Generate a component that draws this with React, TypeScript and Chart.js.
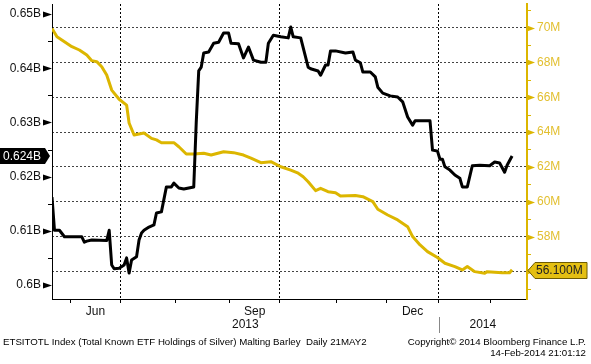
import React, { useEffect, useRef } from 'react';
import { Chart, registerables } from 'chart.js';

Chart.register(...registerables);

// Trading-day index (0 = 21 May 2013) for each vertex of the ETF holdings value line (billions USD)
const valueDays = [0, 1, 3, 5, 12, 13, 14, 16, 22, 23, 24, 25, 27, 29, 30, 31, 32, 34, 35, 36, 37, 39, 41, 42, 44, 46, 48, 49, 51, 53, 57, 58, 59, 60, 61, 63, 65, 67, 69, 71, 72, 75, 77, 79, 81, 84, 86, 87, 89, 92, 95, 96, 97, 100, 103, 104, 107, 108, 110, 111, 112, 114, 118, 121, 122, 124, 125, 128, 130, 131, 133, 136, 139, 141, 143, 145, 146, 152, 153, 155, 156, 157, 158, 160, 162, 164, 165, 167, 169, 172, 176, 178, 180, 182, 183, 185];
const valueB = [0.6162, 0.6101, 0.6101, 0.6089, 0.6089, 0.6079, 0.6081, 0.6083, 0.6082, 0.6101, 0.6037, 0.603, 0.6031, 0.6037, 0.605, 0.6022, 0.6046, 0.6052, 0.6083, 0.6096, 0.6101, 0.6107, 0.6111, 0.6133, 0.6135, 0.6181, 0.6181, 0.6188, 0.6179, 0.6177, 0.6181, 0.63, 0.6395, 0.6402, 0.6428, 0.643, 0.6446, 0.6448, 0.6465, 0.6465, 0.6446, 0.6445, 0.6419, 0.6439, 0.6415, 0.6411, 0.6411, 0.6446, 0.6461, 0.6458, 0.6456, 0.6476, 0.6458, 0.6456, 0.6402, 0.6399, 0.6395, 0.6387, 0.6406, 0.6406, 0.6432, 0.6432, 0.6428, 0.643, 0.6415, 0.641, 0.6393, 0.6393, 0.6384, 0.6365, 0.6354, 0.6349, 0.6347, 0.6338, 0.631, 0.6295, 0.6303, 0.6303, 0.6249, 0.6247, 0.6232, 0.6232, 0.6218, 0.6212, 0.6203, 0.6197, 0.6181, 0.6181, 0.622, 0.6221, 0.622, 0.6227, 0.6225, 0.6208, 0.6221, 0.6238];

// Total known ETF holdings of silver (million ounces)
const holdingsDays = [0, 2, 5, 8, 11, 14, 16, 18, 20, 22, 24, 27, 30, 31, 33, 37, 40, 42, 44, 49, 51, 54, 57, 61, 64, 69, 73, 77, 80, 84, 88, 92, 96, 99, 101, 103, 106, 108, 111, 114, 116, 122, 125, 129, 131, 135, 139, 143, 145, 148, 151, 155, 158, 162, 165, 167, 170, 174, 175, 181, 184, 185];
const holdingsM = [69.95, 69.47, 69.19, 68.9, 68.71, 68.42, 68.1, 68.04, 67.75, 67.27, 66.41, 65.88, 65.55, 64.52, 63.83, 63.95, 63.64, 63.55, 63.39, 63.39, 63.16, 62.74, 62.74, 62.78, 62.68, 62.87, 62.82, 62.68, 62.5, 62.24, 62.3, 62.01, 61.82, 61.64, 61.44, 61.15, 60.64, 60.77, 60.58, 60.52, 60.33, 60.36, 60.29, 60.01, 59.57, 59.24, 58.96, 58.57, 58.0, 57.52, 57.14, 56.8, 56.47, 56.28, 56.09, 56.28, 55.99, 55.9, 55.99, 55.93, 55.93, 56.1];

// Axis definitions
const monthBoundaries = [7.5, 27.5, 49.5, 71.5, 91.5, 114.5, 134.5, 155.5, 176.5];
const quarterBoundaries = [27.5, 91.5, 155.5];
const monthLabels = ['Jun', 'Sep', 'Dec'];
const monthLabelDays = [17.5, 81.5, 145];
const yearLabels = ['2013', '2014'];
const yearStarts = [0, 155.5];
const yearEnds = [155.5, 191];
const leftMajorTicks = [0.6, 0.61, 0.62, 0.63, 0.64, 0.65];
const leftMajorLabels = ['0.6B', '0.61B', '0.62B', '0.63B', '0.64B', '0.65B'];
const leftMinorTicks = [0.605, 0.615, 0.625, 0.635, 0.645];
const rightMajorTicks = [56, 58, 60, 62, 64, 66, 68, 70];
const rightMajorLabels = ['56M', '58M', '60M', '62M', '64M', '66M', '68M', '70M'];
const rightMinorTicks = [55, 57, 59, 61, 63, 65, 67, 69, 71];

const footerLeft = 'ETSITOTL Index (Total Known ETF Holdings of Silver) Malting Barley  Daily 21MAY2';
const footerRight1 = 'Copyright\u00A9 2014 Bloomberg Finance L.P.';
const footerRight2 = '14-Feb-2014 21:01:12';

const FONT = "'Liberation Sans', Arial, sans-serif";
const YELLOW = '#dcb600';
const YELLOW_TEXT = '#e2bf2e';

const near = (a: number, b: number) => Math.abs(a - b) < 1e-6;

const decorPlugin = {
  id: 'decor',
  afterDraw(chart: any) {
    const { ctx, chartArea, scales } = chart;
    const x = scales.x, y = scales.y, y1 = scales.y1;
    const L = chartArea.left, R = chartArea.right;
    ctx.save();
    // left axis arrows and minor ticks
    ctx.fillStyle = '#000';
    leftMajorTicks.forEach((v) => {
      const py = Math.round(y.getPixelForValue(v)) + 0.5;
      ctx.beginPath();
      ctx.moveTo(L - 9, py - 3);
      ctx.lineTo(L, py);
      ctx.lineTo(L - 9, py + 3);
      ctx.closePath();
      ctx.fill();
    });
    ctx.strokeStyle = '#000';
    ctx.lineWidth = 1;
    leftMinorTicks.forEach((v) => {
      const py = Math.round(y.getPixelForValue(v)) + 0.5;
      ctx.beginPath();
      ctx.moveTo(L - 4, py);
      ctx.lineTo(L, py);
      ctx.stroke();
    });
    // right axis arrows and minor ticks
    ctx.fillStyle = YELLOW;
    rightMajorTicks.forEach((v) => {
      const py = Math.round(y1.getPixelForValue(v)) + 0.5;
      ctx.beginPath();
      ctx.moveTo(R, py - 3);
      ctx.lineTo(R + 8, py);
      ctx.lineTo(R, py + 3);
      ctx.closePath();
      ctx.fill();
    });
    ctx.strokeStyle = YELLOW;
    rightMinorTicks.forEach((v) => {
      const py = Math.round(y1.getPixelForValue(v)) + 0.5;
      ctx.beginPath();
      ctx.moveTo(R, py);
      ctx.lineTo(R + 4, py);
      ctx.stroke();
    });

    // last value tag, left axis
    const lastB = valueB[valueB.length - 1];
    const ty = Math.round(y.getPixelForValue(lastB));
    ctx.fillStyle = '#000';
    ctx.beginPath();
    ctx.moveTo(0, ty - 8);
    ctx.lineTo(L - 7, ty - 8);
    ctx.lineTo(L - 2, ty);
    ctx.lineTo(L - 7, ty + 8);
    ctx.lineTo(0, ty + 8);
    ctx.closePath();
    ctx.fill();
    ctx.fillStyle = '#fff';
    ctx.font = `12px ${FONT}`;
    ctx.textAlign = 'left';
    ctx.textBaseline = 'middle';
    ctx.fillText(lastB.toFixed(3) + 'B', 3, ty + 0.5);

    // last value tag, right axis
    const lastM = holdingsM[holdingsM.length - 1];
    const my = Math.round(y1.getPixelForValue(lastM)) + 0.5;
    ctx.fillStyle = '#e4bf12';
    ctx.strokeStyle = '#6e5c00';
    ctx.beginPath();
    ctx.moveTo(R + 1, my);
    ctx.lineTo(R + 8, my - 8);
    ctx.lineTo(587, my - 8);
    ctx.lineTo(587, my + 8);
    ctx.lineTo(R + 8, my + 8);
    ctx.closePath();
    ctx.fill();
    ctx.stroke();
    ctx.fillStyle = '#222';
    ctx.fillText(lastM.toFixed(3) + 'M', R + 9, my + 0.5);

    // year labels and separator
    ctx.fillStyle = '#111';
    ctx.textAlign = 'center';
    yearLabels.forEach((lab, i) => {
      const cx = (x.getPixelForValue(yearStarts[i]) + x.getPixelForValue(yearEnds[i])) / 2;
      ctx.fillText(lab, cx, 325);
    });
    const sx = Math.round(x.getPixelForValue(yearStarts[1])) + 0.5;
    ctx.strokeStyle = '#888';
    ctx.beginPath();
    ctx.moveTo(sx, 317);
    ctx.lineTo(sx, 333);
    ctx.stroke();

    // footer
    ctx.fillStyle = '#000';
    ctx.font = `9.7px ${FONT}`;
    ctx.textAlign = 'left';
    ctx.fillText(footerLeft, 3, 342);
    ctx.textAlign = 'right';
    ctx.fillText(footerRight1, 586, 342);
    ctx.fillText(footerRight2, 586, 353);
    ctx.restore();
  },
};

export default function App() {
  const ref = useRef<HTMLCanvasElement | null>(null);
  useEffect(() => {
    if (!ref.current) return;
    const xTicks = [...monthBoundaries, ...monthLabelDays].sort((a, b) => a - b);
    const leftTicks = [...leftMajorTicks, ...leftMinorTicks].sort((a, b) => a - b);
    const rightTicks = [...rightMajorTicks, ...rightMinorTicks].sort((a, b) => a - b);
    const chart = new Chart(ref.current, {
      type: 'line',
      data: {
        datasets: [
          {
            label: 'Value',
            data: valueDays.map((d, i) => ({ x: d, y: valueB[i] })),
            borderColor: '#000',
            borderWidth: 3,
            pointRadius: 0,
            tension: 0,
            borderJoinStyle: 'round',
            yAxisID: 'y',
          },
          {
            label: 'Holdings',
            data: holdingsDays.map((d, i) => ({ x: d, y: holdingsM[i] })),
            borderColor: YELLOW,
            borderWidth: 3,
            pointRadius: 0,
            tension: 0,
            borderJoinStyle: 'round',
            yAxisID: 'y1',
          },
        ],
      },
      options: {
        responsive: false,
        animation: false,
        events: [],
        layout: { autoPadding: false, padding: { top: 4, left: 0, right: 0, bottom: 0 } },
        plugins: { legend: { display: false }, tooltip: { enabled: false } },
        scales: {
          x: {
            type: 'linear',
            position: 'bottom',
            min: 0,
            max: 191,
            afterBuildTicks: (s: any) => {
              s.ticks = xTicks.map((v) => ({ value: v }));
            },
            afterFit: (s: any) => {
              s.height = 65;
              s.paddingLeft = 0;
              s.paddingRight = 0;
            },
            ticks: {
              autoSkip: false,
              maxRotation: 0,
              padding: 1,
              color: '#111',
              font: { family: FONT, size: 12 },
              callback: (v: any) => {
                const i = monthLabelDays.findIndex((m) => near(m, Number(v)));
                return i >= 0 ? monthLabels[i] : '';
              },
            },
            grid: {
              drawTicks: true,
              tickLength: 4,
              lineWidth: 1,
              color: (c: any) => (c.tick && quarterBoundaries.some((q) => near(q, c.tick.value)) ? '#000' : 'transparent'),
              tickColor: (c: any) => (c.tick && monthBoundaries.some((q) => near(q, c.tick.value)) ? '#000' : 'transparent'),
            },
            border: { display: true, color: '#000', width: 1, dash: [2, 2] },
          },
          y: {
            type: 'linear',
            position: 'left',
            min: 0.59742,
            max: 0.65185,
            afterBuildTicks: (s: any) => {
              s.ticks = leftTicks.map((v) => ({ value: v }));
            },
            afterFit: (s: any) => {
              s.width = 52;
              s.paddingTop = 0;
              s.paddingBottom = 0;
            },
            ticks: {
              autoSkip: false,
              padding: 11,
              color: '#111',
              font: { family: FONT, size: 12 },
              callback: (v: any) => {
                const i = leftMajorTicks.findIndex((m) => near(m, Number(v)));
                return i >= 0 ? leftMajorLabels[i] : '';
              },
            },
            grid: { drawOnChartArea: false, drawTicks: false },
            border: { display: true, color: '#000', width: 1 },
          },
          y1: {
            type: 'linear',
            position: 'right',
            min: 54.42,
            max: 71.35,
            afterBuildTicks: (s: any) => {
              s.ticks = rightTicks.map((v) => ({ value: v }));
            },
            afterFit: (s: any) => {
              s.width = 64;
              s.paddingTop = 0;
              s.paddingBottom = 0;
            },
            ticks: {
              autoSkip: false,
              padding: 10,
              color: YELLOW_TEXT,
              font: { family: FONT, size: 12 },
              callback: (v: any) => {
                const i = rightMajorTicks.findIndex((m) => near(m, Number(v)));
                return i >= 0 ? rightMajorLabels[i] : '';
              },
            },
            grid: {
              drawOnChartArea: true,
              drawTicks: false,
              lineWidth: 1,
              color: (c: any) => (c.tick && rightMajorTicks.some((m) => near(m, c.tick.value)) ? '#444' : 'transparent'),
            },
            border: { display: true, color: YELLOW, width: 2, dash: [2, 2] },
          },
        },
      },
      plugins: [decorPlugin],
    } as any);
    return () => chart.destroy();
  }, []);

  return (
    <div style={{ position: 'fixed', left: 0, top: 0, width: 591, height: 364, background: '#fff' }}>
      <canvas ref={ref} width={591} height={364} style={{ width: 591, height: 364, display: 'block' }} />
    </div>
  );
}
